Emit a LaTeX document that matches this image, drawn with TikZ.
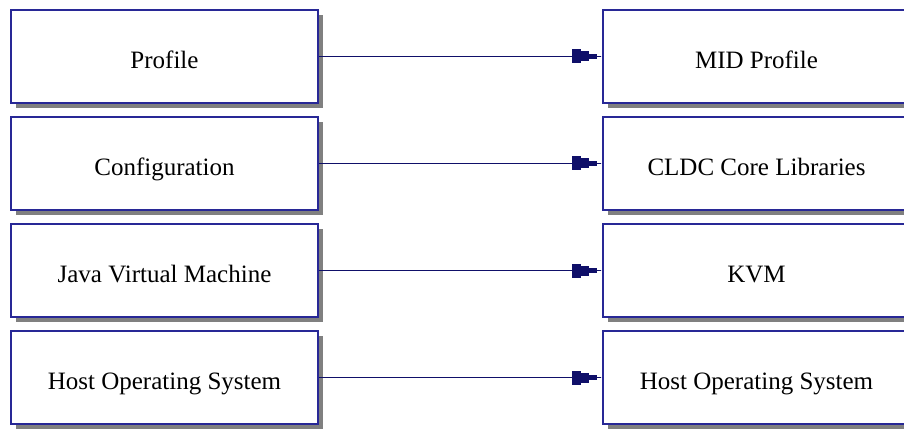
\documentclass[tikz,border=0pt]{standalone}
\usepackage{fontspec}
\setmainfont{Liberation Serif}
\usepackage{xcolor}
\usetikzlibrary{arrows.meta,shadows}

\definecolor{boxblue}{RGB}{40,40,150}
\definecolor{linkblue}{RGB}{15,15,105}

\tikzset{
  layer/.style={draw=boxblue, line width=2pt, fill=white,
    minimum width=307pt, minimum height=93pt, inner sep=0pt,
    text height=24pt, text depth=0pt,
    font=\fontsize{25}{29}\selectfont,
    drop shadow={shadow xshift=5pt, shadow yshift=-5pt, fill=gray, opacity=1}},
  maps/.style={draw=linkblue, line width=1.8pt,
    -{Rectangle[length=9pt,width=14pt] Rectangle[length=8pt,width=10pt] Rectangle[length=8pt,width=5pt] Rectangle[length=5pt,width=1.8pt]}}
}

\begin{document}
\begin{tikzpicture}[x=1pt,y=-1pt]
\useasboundingbox (0,0) rectangle (904,430);
\clip (0,0) rectangle (904,430);

% generic stack on the left
\node[layer] (profile) at (164.5,56.5) {Profile};
\node[layer] (config)  at (164.5,163.5) {Configuration};
\node[layer] (jvm)     at (164.5,270.5) {Java Virtual Machine};
\node[layer] (hostos)  at (164.5,377.5) {Host Operating System};

% concrete stack on the right
\node[layer] (mid)  at (756.5,56.5) {MID Profile};
\node[layer] (cldc) at (756.5,163.5) {CLDC Core Libraries};
\node[layer] (kvm)  at (756.5,270.5) {KVM};
\node[layer] (host) at (756.5,377.5) {Host Operating System};

\draw[maps] (profile) -- (mid);
\draw[maps] (config) -- (cldc);
\draw[maps] (jvm) -- (kvm);
\draw[maps] (hostos) -- (host);
\end{tikzpicture}
\end{document}
